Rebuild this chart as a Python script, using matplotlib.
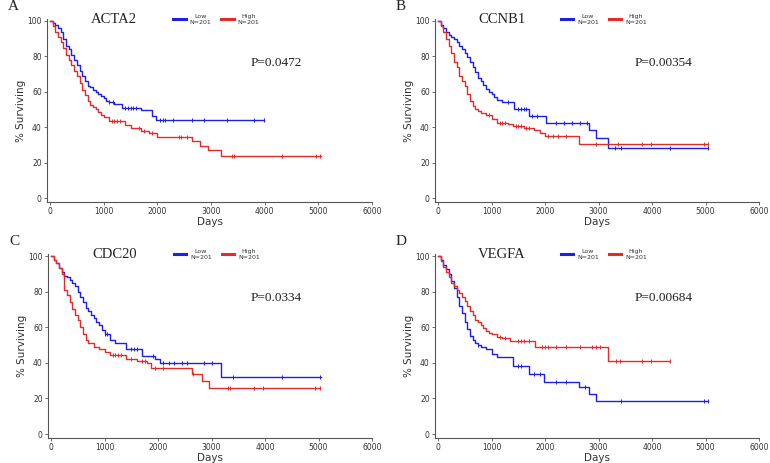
import numpy as np
import matplotlib
matplotlib.use("Agg")
import matplotlib.pyplot as plt

# Kaplan-Meier curves: step start times (days) and % surviving
genes = ["ACTA2", "CCNB1", "CDC20", "VEGFA"]
letters = ["A", "B", "C", "D"]
pvals = ["P=0.0472", "P=0.00354", "P=0.0334", "P=0.00684"]
n_low = 201
n_high = 201

acta2_low_t = [0, 50, 100, 150, 200, 250, 300, 350, 400, 450, 500, 550, 600, 650, 700, 750, 800, 850, 900, 950,
               1000, 1050, 1100, 1200, 1350, 1700, 1900, 1980, 3980]
acta2_low_s = [100, 99, 98, 96, 94, 90, 86, 84, 81, 78, 75, 72, 69, 66, 63.5, 62.5, 61, 60, 58.5, 57.5,
               56.5, 55, 54, 53, 51, 49.5, 46.5, 44, 44]
acta2_low_c = [1100, 1180, 1400, 1450, 1500, 1550, 1600, 2050, 2100, 2150, 2300, 2650, 2870, 3300, 3800, 3980]
acta2_high_t = [0, 50, 100, 150, 200, 250, 300, 350, 400, 450, 500, 550, 600, 650, 700, 750, 800, 850, 900, 950,
                1000, 1100, 1400, 1500, 1700, 1850, 2000, 2640, 2800, 2950, 3180, 5050]
acta2_high_s = [100, 97, 94, 91, 88, 84.5, 81, 78, 75, 72, 69, 65, 61, 58, 55, 52.5, 51.5, 50, 48.5, 47,
                45.5, 43.5, 41, 39.5, 38, 36.5, 34.5, 32, 29.5, 27, 23.5, 23.5]
acta2_high_c = [1150, 1200, 1250, 1300, 1650, 1750, 1900, 2400, 2450, 2550, 3390, 3420, 4320, 4960, 5030]

ccnb1_low_t = [0, 50, 100, 150, 200, 250, 300, 350, 400, 450, 500, 550, 600, 650, 700, 750, 800, 850, 900, 950,
               1000, 1050, 1100, 1200, 1420, 1700, 2020, 2830, 2960, 3180, 5050]
ccnb1_low_s = [100, 98, 96, 94, 92, 91, 90, 88, 86, 84, 82, 79.5, 77, 74, 71, 68, 66, 64, 61.5, 60,
               58.5, 57, 55.5, 54, 50, 46.5, 42.5, 38.5, 34, 28.5, 28.5]
ccnb1_low_c = [1300, 1500, 1550, 1600, 1650, 1750, 1850, 2200, 2350, 2500, 2650, 2780, 3310, 3420, 4340, 5050]
ccnb1_high_t = [0, 50, 100, 150, 200, 250, 300, 350, 400, 450, 500, 550, 600, 650, 700, 750, 800, 900, 1000,
                1100, 1300, 1400, 1600, 1800, 1900, 2000, 2640, 5050]
ccnb1_high_s = [100, 97, 94, 90, 86, 82, 77, 74, 69, 66, 63, 59, 55, 52, 50, 49, 48, 47, 44.5,
                42.5, 42, 40.5, 39.5, 38.5, 36.5, 35, 30.5, 30.5]
ccnb1_high_c = [950, 1150, 1200, 1250, 1450, 1500, 1550, 1650, 1700, 2050, 2150, 2250, 2400, 2950, 3360, 3810,
                3980, 4970, 5040]

cdc20_low_t = [0, 50, 100, 150, 200, 250, 300, 350, 400, 450, 500, 550, 600, 650, 700, 750, 800, 850, 900, 950,
               1000, 1100, 1200, 1400, 1700, 1950, 2030, 3180, 5050]
cdc20_low_s = [100, 98, 96, 93.5, 91, 89, 88, 86.5, 85, 83, 80, 77, 74, 71, 69, 67, 65, 63, 61, 58.5,
               56, 53, 51, 47.5, 44, 42, 40, 32, 32]
cdc20_low_c = [1000, 1050, 1500, 1550, 1600, 1900, 2100, 2200, 2300, 2450, 2550, 2860, 3010, 3400, 4320, 5030]
cdc20_high_t = [0, 50, 100, 150, 200, 250, 300, 350, 400, 450, 500, 550, 600, 650, 700, 800, 900, 1000, 1100,
                1400, 1600, 1800, 1870, 2400, 2640, 2830, 2960, 5030]
cdc20_high_s = [100, 98, 96, 93, 90, 81, 78, 74, 70, 67, 64, 60, 56, 53, 51, 49, 48, 46, 44.5,
                42, 41, 40, 37, 37, 33.5, 29.5, 26, 26]
cdc20_high_c = [1150, 1200, 1250, 1300, 1500, 1700, 1750, 1950, 2100, 2650, 3310, 3350, 3800, 3960, 4930, 5030]

vegfa_low_t = [0, 50, 100, 150, 200, 250, 300, 350, 400, 450, 500, 550, 600, 650, 700, 750, 800, 900, 1000,
               1100, 1400, 1700, 1980, 2640, 2830, 2960, 5050]
vegfa_low_s = [100, 97.5, 95, 92.5, 90, 86, 82, 77, 72, 68, 63, 59, 55, 53, 51, 50, 49, 48, 45,
               43, 38, 33.5, 29, 26.3, 22.3, 18.6, 18.6]
vegfa_low_c = [750, 1500, 1550, 1800, 1900, 2200, 2400, 2750, 3420, 4970, 5050]
vegfa_high_t = [0, 50, 100, 150, 200, 250, 300, 350, 400, 450, 500, 550, 600, 650, 700, 750, 800, 850, 900, 950,
                1000, 1100, 1200, 1350, 1820, 3180, 4340]
vegfa_high_s = [100, 97, 94, 91, 88, 85, 83, 81, 79, 77, 75, 72, 69, 67, 64, 63, 61, 59.5, 58, 57,
                56, 54.5, 54, 52.5, 49, 40.8, 40.8]
vegfa_high_c = [1150, 1250, 1500, 1550, 1600, 1700, 1950, 2000, 2050, 2200, 2400, 2650, 2880, 2950, 3020, 3330,
                3400, 3810, 3980, 4340]

low_curves = [(acta2_low_t, acta2_low_s, acta2_low_c), (ccnb1_low_t, ccnb1_low_s, ccnb1_low_c),
              (cdc20_low_t, cdc20_low_s, cdc20_low_c), (vegfa_low_t, vegfa_low_s, vegfa_low_c)]
high_curves = [(acta2_high_t, acta2_high_s, acta2_high_c), (ccnb1_high_t, ccnb1_high_s, ccnb1_high_c),
               (cdc20_high_t, cdc20_high_s, cdc20_high_c), (vegfa_high_t, vegfa_high_s, vegfa_high_c)]

# pixel positions of (day 0, day 6000, 100%, 0%) for each panel in the 770x463 figure
panel_px = [(50, 372, 21, 198), (438, 759, 21, 198), (51, 372, 256, 434), (438, 759, 256, 434)]

W, H = 770, 463
XMIN, XMAX = -50, 6000
YMIN, YMAX = -2, 101
BLUE = "#1f1fe6"
RED = "#e22b2b"
AXC = "#555555"

fig = plt.figure(figsize=(W / 100, H / 100), dpi=100)


def km_plot(ax, t, s, cens, color):
    t = np.asarray(t, float)
    s = np.asarray(s, float)
    ax.step(t, s, where="post", color=color, lw=1.0)
    cens = np.asarray(cens, float)
    idx = np.searchsorted(t, cens, side="right") - 1
    ax.plot(cens, s[idx], ls="none", marker="|", ms=3.2, mew=0.7, color=color)


for i in range(4):
    x0, x6, y100, y0 = panel_px[i]
    ppx = (x6 - x0) / 6000.0
    ppy = (y0 - y100) / 100.0
    left = x0 + XMIN * ppx
    right = x0 + XMAX * ppx
    top = y0 - YMAX * ppy
    bottom = y0 - YMIN * ppy
    ax = fig.add_axes([left / W, 1 - bottom / H, (right - left) / W, (bottom - top) / H])

    lt, ls_, lc = low_curves[i]
    ht, hs, hc = high_curves[i]
    km_plot(ax, lt, ls_, lc, BLUE)
    km_plot(ax, ht, hs, hc, RED)

    ax.set_xlim(XMIN, XMAX)
    ax.set_ylim(YMIN, YMAX)
    ax.set_xticks(range(0, 6001, 1000))
    ax.set_yticks(range(0, 101, 20))
    for side in ["top", "right"]:
        ax.spines[side].set_visible(False)
    for side in ["left", "bottom"]:
        ax.spines[side].set_color(AXC)
        ax.spines[side].set_linewidth(0.8)
    ax.tick_params(labelsize=5.5, length=2.5, width=0.6, color=AXC, labelcolor="#333333", pad=1.5)
    ax.set_xlabel("Days", fontsize=7.5, color="#333333", labelpad=0.5)
    ax.set_ylabel("% Surviving", fontsize=7.5, color="#333333", labelpad=1)

    # legend keys
    ax.plot([], [], color=BLUE, lw=2.2, label=f"Low\nN={n_low}")
    ax.plot([], [], color=RED, lw=2.2, label=f"High\nN={n_high}")
    handles, labels = ax.get_legend_handles_labels()
    leg = ax.legend(handles[-2:], labels[-2:], ncol=2, loc="center", bbox_to_anchor=(0.52, 1.0),
                    frameon=False, fontsize=4.5, handlelength=2.0, handletextpad=0.6,
                    columnspacing=1.6, borderpad=0)
    for txt in leg.get_texts():
        txt.set_multialignment("center")
        txt.set_color("#333333")

    ax.text(0.205, 1.0, genes[i], transform=ax.transAxes, ha="center", va="center",
            fontsize=10.5, family="Liberation Serif", color="#222222")
    ax.text(0.705, 0.76, pvals[i], transform=ax.transAxes, ha="center", va="center",
            fontsize=9.5, family="Liberation Serif", color="#222222")

    fig.text((x0 - 42) / W, 1 - (y100 - 14) / H, letters[i], ha="left", va="center",
             fontsize=11, family="Liberation Serif", color="#222222")

fig.savefig("out.png", dpi=100)
